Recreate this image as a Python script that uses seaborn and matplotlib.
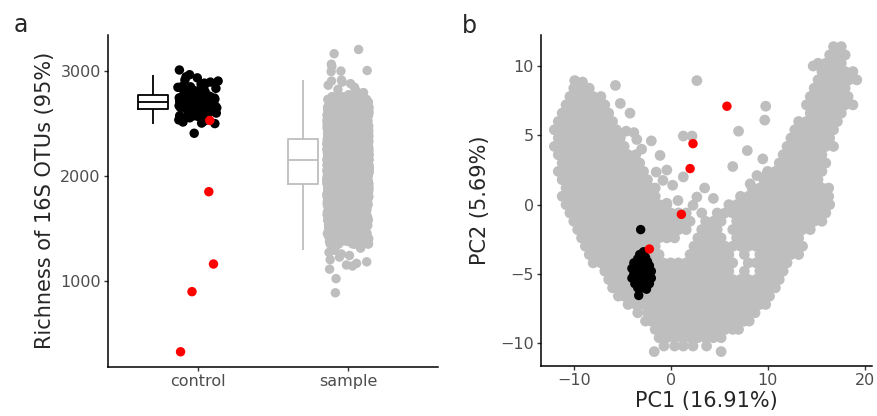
import numpy as np
import pandas as pd
import seaborn as sns
import matplotlib.pyplot as plt
import matplotlib.transforms as mtransforms

GREY = "#BEBEBE"
TICK_GREY = "#4D4D4D"

# ---- panel a: richness per group ----
groups = ["control", "sample"]

control_richness = [
    3005, 2960, 2940, 2930, 2910, 2900, 2890, 2880, 2870, 2860, 2850, 2845, 2840,
    2830, 2825, 2820, 2815, 2810, 2800, 2800, 2795, 2790, 2785, 2780, 2775,
    2770, 2765, 2760, 2755, 2750, 2748, 2745, 2740, 2738, 2735, 2730, 2728, 2725,
    2722, 2720, 2718, 2715, 2712, 2710, 2708, 2706, 2705, 2703, 2700, 2698,
    2695, 2692, 2690, 2688, 2685, 2682, 2680, 2678, 2675, 2672, 2670, 2668, 2665,
    2662, 2660, 2657, 2655, 2652, 2650, 2648, 2645, 2642, 2640, 2636, 2632,
    2625, 2620, 2615, 2610, 2605, 2600, 2595, 2590, 2585, 2580, 2575, 2570, 2565,
    2560, 2555, 2550, 2545, 2540, 2530, 2520, 2510, 2500, 2495, 2403, 2570,
]
flagged_richness = [2525, 1847, 1159, 896, 324]

# dense part of the sample column, read as levels with counts
sample_levels = [
    1350, 1375, 1400, 1425, 1450, 1475, 1500, 1525, 1550, 1575, 1600, 1625,
    1650, 1675, 1700, 1725, 1750, 1775, 1800, 1825, 1850, 1875, 1900, 1925,
    1950, 1975, 2000, 2025, 2050, 2075, 2100, 2125, 2150,
    2175, 2200, 2225, 2250, 2275, 2300, 2325, 2350,
    2375, 2400, 2425, 2450, 2475, 2500, 2525, 2550, 2575, 2600, 2625, 2650,
    2675, 2700, 2725, 2750,
]
sample_counts = [
    10, 10, 11, 12, 13, 14, 15, 16, 18, 20, 22, 25,
    28, 32, 38, 42, 47, 52, 60, 66, 72, 80, 86, 92,
    96, 100, 102, 104, 105, 106, 106, 106, 106,
    115, 115, 114, 113, 112, 110, 108, 105,
    100, 94, 88, 80, 72, 64, 56, 48, 42, 36, 30, 25,
    20, 16, 13, 11,
]
sample_sparse = [
    1330, 1310, 1290, 1270, 1255, 1240, 1225, 1200, 1180, 1165, 1150, 1140,
    1110, 1020, 885,
    2770, 2790, 2805, 2820, 2840, 2860, 2875, 2890, 2900, 2910,
    2990, 2995, 3000, 3040, 3060, 3160, 3200,
]

# ---- panel b: PCA ----
# grey cloud, read row by row: PC2 level -> PC1 values
pc_rows = {
    11.4: [16.8, 17.6],
    10.8: [16.4, 17.2, 18.0],
    10.2: [15.2, 16.0, 16.8, 17.6],
    9.6: [15.6, 16.4, 17.2, 18.0, 18.8],
    9.0: [15.2, 16.0, 16.8, 17.6, 18.4, 19.2],
    8.4: [-10.0, -9.2, -8.4, 14.8, 15.6, 16.4, 17.2, 18.0],
    7.8: [-10.4, -9.6, -8.8, -8.0, -7.2, 14.4, 15.2, 16.0, 16.8, 17.6, 18.3],
    7.2: [-10.8, -10.0, -9.2, -8.4, -7.6, -6.8, 14.0, 14.8, 15.6, 16.4, 17.2, 18.0, 18.8],
    6.6: [-11.2, -10.4, -9.6, -8.8, -8.0, -7.2, -6.4, 14.4, 15.2, 16.0, 16.8, 17.6],
    6.0: [-11.6, -10.8, -10.0, -9.2, -8.4, -7.6, -6.8, -6.0, 14.0, 14.8, 15.6, 16.4, 17.2],
    5.4: [-12.0, -11.2, -10.4, -9.6, -8.8, -8.0, -7.2, -6.4, -5.6, 12.8, 13.6, 14.4, 15.2,
          16.0, 16.8],
    4.8: [-11.6, -10.8, -10.0, -9.2, -8.4, -7.6, -6.8, -6.0, -5.2, 12.4, 13.2, 14.0, 14.8,
          15.6, 16.4],
    4.2: [-12.0, -11.2, -10.4, -9.6, -8.8, -8.0, -7.2, -6.4, -5.6, -4.8, 12.0, 12.8, 13.6,
          14.4, 15.2, 16.0, 16.8],
    3.6: [-11.6, -10.8, -10.0, -9.2, -8.4, -7.6, -6.8, -6.0, -5.2, -4.4, -3.6, 11.6, 12.4,
          13.2, 14.0, 14.8, 15.6],
    3.0: [-11.2, -10.4, -9.6, -8.8, -8.0, -7.2, -6.4, -5.6, -4.8, -4.0, -3.2, 11.2, 12.0,
          12.8, 13.6, 14.4, 15.2, 16.0],
    2.4: [-11.6, -10.8, -10.0, -9.2, -8.4, -7.6, -6.8, -6.0, -5.2, -4.4, -3.6, -2.8, 10.0,
          10.8, 11.6, 12.4, 13.2, 14.0, 14.8, 15.6],
    1.8: [-11.2, -10.4, -9.6, -8.8, -8.0, -7.2, -6.4, -5.6, -4.8, -4.0, -3.2, -2.4, 9.6,
          10.4, 11.2, 12.0, 12.8, 13.6, 14.4, 15.2],
    1.2: [-10.8, -10.0, -9.2, -8.4, -7.6, -6.8, -6.0, -5.2, -4.4, -3.6, -2.8, -2.0, 8.4,
          9.2, 10.0, 10.8, 11.6, 12.4, 13.2, 14.0, 14.8, 15.6],
    0.6: [-11.2, -10.4, -9.6, -8.8, -8.0, -7.2, -6.4, -5.6, -4.8, -4.0, -3.2, -2.4, -1.6,
          7.2, 8.0, 8.8, 9.6, 10.4, 11.2, 12.0, 12.8, 13.6, 14.4, 15.2, 16.0],
    0.0: [-10.8, -10.0, -9.2, -8.4, -7.6, -6.8, -6.0, -5.2, -4.4, -3.6, -2.8, -2.0, -1.2,
          -0.4, 6.0, 6.8, 7.6, 8.4, 9.2, 10.0, 10.8, 11.6, 12.4, 13.2, 14.0, 14.8, 15.6, 16.4],
    -0.6: [-10.4, -9.6, -8.8, -8.0, -7.2, -6.4, -5.6, -4.8, -4.0, -3.2, -2.4, -1.6, -0.8,
           0.0, 0.8, 1.6, 3.2, 4.8, 5.6, 6.4, 7.2, 8.0, 8.8, 9.6, 10.4, 11.2, 12.0, 12.8,
           13.6, 14.4, 15.2, 16.0],
    -1.2: [-10.0, -9.2, -8.4, -7.6, -6.8, -6.0, -5.2, -4.4, -3.6, -2.8, -2.0, -1.2, -0.4,
           0.4, 1.2, 2.0, 3.6, 4.4, 5.2, 6.8, 7.6, 8.4, 9.2, 10.0, 10.8, 11.6, 12.4, 13.2,
           14.0, 14.8, 15.6],
    -1.8: [-9.6, -8.8, -8.0, -7.2, -6.4, -5.6, -4.8, -4.0, -3.2, -2.4, -1.6, -0.8, 0.0,
           0.8, 1.6, 3.2, 4.0, 4.8, 6.4, 7.2, 8.0, 8.8, 9.6, 10.4, 11.2, 12.0, 12.8, 13.6,
           14.4],
    -2.4: [-9.2, -8.4, -7.6, -6.8, -6.0, -5.2, -4.4, -3.6, -2.8, -2.0, -1.2, -0.4, 0.4,
           2.8, 3.6, 4.4, 5.2, 6.8, 7.6, 8.4, 9.2, 10.0, 10.8, 11.6, 12.4, 13.2],
    -3.0: [-8.8, -8.0, -7.2, -6.4, -5.6, -4.8, -4.0, -3.2, -2.4, -1.6, 2.4, 3.2, 4.0, 4.8,
           5.6, 6.4, 7.2, 8.0, 8.8, 9.6, 10.4, 11.2, 12.0, 12.8, 13.6],
    -3.6: [-8.4, -7.6, -6.8, -6.0, -5.2, -4.4, -3.6, -2.8, -2.0, -1.2, 2.0, 2.8, 3.6, 4.4,
           5.2, 6.0, 7.6, 9.2, 10.0, 10.8, 11.6, 12.4, 13.2],
    -4.2: [-8.0, -7.2, -6.4, -5.6, -4.8, -4.0, -3.2, -2.4, -1.6, -0.8, 0.0, 0.8, 1.6, 2.4,
           3.2, 4.0, 4.8, 5.6, 6.4, 8.0, 8.8, 9.6, 10.4, 11.2, 12.0],
    -4.8: [-6.8, -6.0, -5.2, -4.4, -3.6, -2.8, -2.0, -1.2, -0.4, 0.4, 1.2, 2.0, 2.8, 3.6,
           4.4, 5.2, 6.0, 7.6, 9.2, 10.0, 10.8, 11.6],
    -5.4: [-6.4, -5.6, -4.8, -4.0, -3.2, -2.4, -1.6, -0.8, 0.0, 0.8, 1.6, 2.4, 3.2, 4.0,
           4.8, 5.6, 6.4, 7.2, 8.0, 8.8, 9.6, 10.4, 11.2],
    -6.0: [-6.0, -5.2, -4.4, -3.6, -2.8, -2.0, -1.2, -0.4, 0.4, 1.2, 2.0, 2.8, 3.6, 4.4,
           5.2, 6.0, 6.8, 7.6, 8.4, 9.2, 10.0, 10.8],
    -6.6: [-5.4, -4.8, -4.0, -3.2, -2.4, -1.6, -0.8, 0.0, 0.8, 1.6, 2.4, 3.2, 4.0, 4.8,
           5.6, 6.4, 7.2, 8.0, 8.8, 9.6, 10.2],
    -7.2: [-4.4, -3.6, -2.8, -2.0, -1.2, -0.4, 0.4, 1.2, 2.0, 2.8, 3.6, 4.4, 5.2, 6.0,
           6.8, 7.6, 8.4, 9.2, 9.8],
    -7.8: [-3.4, -2.4, -1.6, -0.8, 0.0, 0.8, 1.6, 2.4, 3.2, 4.0, 4.8, 5.6, 6.4, 7.2, 8.0,
           8.7],
    -8.4: [-2.6, -2.0, -1.2, -0.4, 0.4, 1.2, 2.0, 2.8, 3.6, 4.4, 5.2, 6.0, 6.8, 7.6, 8.1],
    -9.0: [-1.6, -0.8, 0.0, 0.8, 1.6, 2.4, 3.2, 4.0, 4.8, 5.6, 6.4, 7.0],
    -9.6: [-1.2, -0.4, 0.4, 1.2, 2.0, 2.8, 3.6, 4.4, 5.2],
    -10.2: [-0.7, 0.4, 1.3, 2.3, 3.7],
    -10.6: [-1.7, 5.2],
}
# loose grey points, mostly inside the V
pc_scatter = [
    (-9.9, 8.95), (-9.1, 8.85), (-5.7, 8.6), (-5.2, 7.3), (-4.2, 6.6), (-4.6, 5.3),
    (-3.8, 5.2), (-3.5, 4.7), (-2.0, 4.6), (-3.0, 4.0), (-1.1, 3.55), (-1.5, 2.35),
    (-0.4, 2.5), (-0.8, 1.75), (-1.6, 1.2), (0.2, 1.4), (1.3, 2.0), (-0.4, 0.1),
    (0.75, 0.3), (2.3, -0.05), (2.7, 0.55), (3.5, 1.2), (4.4, 0.45), (6.4, 2.75),
    (1.3, 4.95), (2.2, 4.95), (2.7, 8.95), (9.8, 7.1), (9.7, 6.1), (7.0, 5.3),
    (7.9, 3.9), (9.5, 3.3), (8.9, 2.1), (8.2, 1.5), (9.9, 2.2), (11.1, 2.0),
    (14.7, 10.0), (16.3, 1.2), (13.2, 6.0), (13.2, 4.8), (16.3, 0.6),
]
control_pc = [
    (-3.1, -1.8), (-2.8, -3.4), (-3.2, -3.6), (-2.6, -3.8), (-3.4, -3.9), (-2.9, -4.0),
    (-2.4, -4.1), (-3.8, -4.2), (-3.3, -4.3), (-2.8, -4.4), (-2.2, -4.4), (-4.0, -4.6),
    (-3.5, -4.6), (-3.0, -4.7), (-2.5, -4.7), (-2.0, -4.8), (-3.8, -5.0), (-3.3, -5.0),
    (-2.8, -5.1), (-2.3, -5.0), (-4.0, -5.3), (-3.5, -5.3), (-3.0, -5.4), (-2.5, -5.4),
    (-2.0, -5.3), (-3.7, -5.7), (-3.2, -5.7), (-2.7, -5.8), (-2.2, -5.7), (-3.4, -6.0),
    (-2.9, -6.0), (-2.5, -6.1), (-3.3, -6.55),
]
flagged_pc = [(5.8, 7.1), (2.3, 4.4), (2.0, 2.6), (1.1, -0.7), (-2.2, -3.2)]

palette = {"sample": GREY, "control": "black", "flagged": "red"}
# the grey cloud is drawn a touch larger so the dense rows merge
point_sizes = {"sample": 60, "control": 46, "flagged": 46}

# ---- build tables ----
sample_richness = np.concatenate([np.repeat(sample_levels, sample_counts), sample_sparse])
df_a = pd.concat([
    pd.DataFrame({"group": "sample", "status": "sample", "richness": sample_richness}),
    pd.DataFrame({"group": "control", "status": "control", "richness": control_richness}),
    pd.DataFrame({"group": "control", "status": "flagged", "richness": flagged_richness}),
], ignore_index=True)

grey_pts = [(x, y) for y, xs in pc_rows.items() for x in xs] + pc_scatter
df_b = pd.concat([
    pd.DataFrame(grey_pts, columns=["PC1", "PC2"]).assign(status="sample"),
    pd.DataFrame(control_pc, columns=["PC1", "PC2"]).assign(status="control"),
    pd.DataFrame(flagged_pc, columns=["PC1", "PC2"]).assign(status="flagged"),
], ignore_index=True)

# ---- plot ----
sns.set_style("ticks")
plt.rcParams["font.family"] = ["DejaVu Sans"]

fig = plt.figure(figsize=(8.77, 4.16), dpi=100)
ax1 = fig.add_axes([0.1231, 0.1185, 0.3763, 0.7974])
ax2 = fig.add_axes([0.6169, 0.1202, 0.3771, 0.7957])

# boxes, nudged left of each category
before = set(ax1.lines) | set(ax1.patches)
box_df = df_a[df_a["status"] != "flagged"]
sns.boxplot(
    data=box_df, x="group", y="richness", hue="group", order=groups, hue_order=groups,
    palette={"control": "black", "sample": GREY}, fill=False, width=0.2,
    showfliers=False, showcaps=False, linewidth=1.3, legend=False, ax=ax1,
)
nudge = mtransforms.Affine2D().translate(-0.3, 0) + ax1.transData
for art in (set(ax1.lines) | set(ax1.patches)) - before:
    art.set_transform(nudge)

sns.stripplot(
    data=df_a, x="group", y="richness", hue="status",
    order=groups, hue_order=["sample", "control", "flagged"], palette=palette,
    jitter=0.14, size=6.8, linewidth=0, dodge=False, legend=False, ax=ax1,
)
ax1.set_xlim(-0.6, 1.6)
ax1.set_ylim(182, 3338)
ax1.set_yticks([1000, 2000, 3000])
ax1.set_xlabel("")
ax1.set_ylabel("Richness of 16S OTUs (95%)", fontsize=15, labelpad=4)

sns.scatterplot(
    data=df_b, x="PC1", y="PC2", hue="status", palette=palette,
    size="status", sizes=point_sizes, linewidth=0, legend=False, ax=ax2,
)
ax2.set_xlim(-13.38, 20.74)
ax2.set_ylim(-11.64, 12.24)
ax2.set_xticks([-10, 0, 10, 20])
ax2.set_yticks([-10, -5, 0, 5, 10])
ax2.set_xlabel("PC1 (16.91%)", fontsize=15, labelpad=2)
ax2.set_ylabel("PC2 (5.69%)", fontsize=15, labelpad=7)

for ax in (ax1, ax2):
    sns.despine(ax=ax)
    for side in ("left", "bottom"):
        ax.spines[side].set_linewidth(1.1)
        ax.spines[side].set_color("black")
    ax.tick_params(labelsize=11.5, labelcolor=TICK_GREY, color="#333333",
                   length=2.7, width=1.0, pad=2.5)

fig.text(0.015, 0.923, "a", fontsize=17)
fig.text(0.527, 0.921, "b", fontsize=17)

fig.savefig("out.png", dpi=100)
